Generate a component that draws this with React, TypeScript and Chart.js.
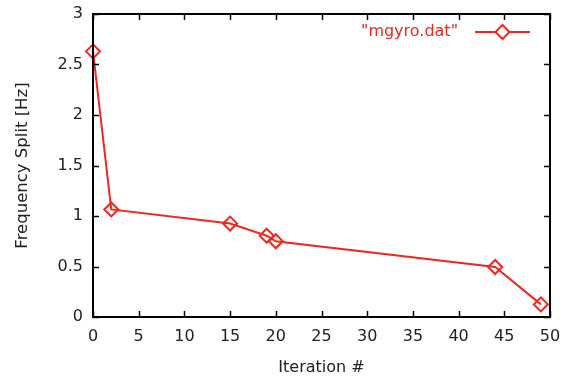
import React, { useEffect, useRef } from "react";
import { Chart, registerables } from "chart.js";

Chart.register(...registerables);

const iterations = [0, 2, 15, 19, 20, 44, 49];
const frequencySplit = [2.63, 1.065, 0.925, 0.805, 0.75, 0.495, 0.125];
const seriesLabel = '"mgyro.dat"';
const xTitle = "Iteration #";
const yTitle = "Frequency Split [Hz]";

const RED = "rgb(242,38,28)";
const FONT = "'DejaVu Sans', sans-serif";

const framePlugin = {
  id: "gnuplotFrame",
  afterDatasetsDraw(chart: any) {
    const { ctx, chartArea: a, scales } = chart;
    const xs = scales.x;
    const ys = scales.y;
    ctx.save();
    ctx.strokeStyle = "#000";
    ctx.lineWidth = 2;
    ctx.strokeRect(a.left, a.top, a.right - a.left, a.bottom - a.top);
    const tl = 6;
    ctx.lineWidth = 1.5;
    ctx.beginPath();
    xs.ticks.forEach((t: any) => {
      const x = Math.round(xs.getPixelForValue(t.value)) + 0.5;
      ctx.moveTo(x, a.bottom);
      ctx.lineTo(x, a.bottom - tl);
      ctx.moveTo(x, a.top);
      ctx.lineTo(x, a.top + tl);
    });
    ys.ticks.forEach((t: any) => {
      const y = Math.round(ys.getPixelForValue(t.value)) + 0.5;
      ctx.moveTo(a.left, y);
      ctx.lineTo(a.left + tl, y);
      ctx.moveTo(a.right, y);
      ctx.lineTo(a.right - tl, y);
    });
    ctx.stroke();

    // legend (gnuplot style: text then sample)
    const ly = a.top + 18;
    const lineStart = a.right - 75;
    const lineEnd = a.right - 20;
    ctx.fillStyle = RED;
    ctx.font = `16px ${FONT}`;
    ctx.textAlign = "right";
    ctx.textBaseline = "middle";
    ctx.fillText(seriesLabel, lineStart - 17, ly);
    ctx.strokeStyle = RED;
    ctx.lineWidth = 2;
    ctx.beginPath();
    ctx.moveTo(lineStart, ly);
    ctx.lineTo(lineEnd, ly);
    ctx.stroke();
    const cx = (lineStart + lineEnd) / 2;
    const r = 7;
    ctx.fillStyle = "#fff";
    ctx.beginPath();
    ctx.moveTo(cx, ly - r);
    ctx.lineTo(cx + r, ly);
    ctx.lineTo(cx, ly + r);
    ctx.lineTo(cx - r, ly);
    ctx.closePath();
    ctx.fill();
    ctx.stroke();
    ctx.restore();
  },
};

export default function App() {
  const ref = useRef<HTMLCanvasElement | null>(null);
  useEffect(() => {
    if (!ref.current) return;
    const chart = new Chart(ref.current, {
      type: "scatter",
      data: {
        datasets: [
          {
            label: seriesLabel,
            data: iterations.map((x, i) => ({ x, y: frequencySplit[i] })),
            showLine: true,
            borderColor: RED,
            backgroundColor: "#fff",
            borderWidth: 2,
            pointStyle: "rectRot",
            pointRadius: 7,
            pointBorderWidth: 2,
            pointBackgroundColor: "rgba(255,255,255,0)",
            pointBorderColor: RED,
            clip: false as any,
          },
        ],
      },
      options: {
        animation: false,
        responsive: false,
        maintainAspectRatio: false,
        layout: { padding: { top: 14, right: 17, left: 0, bottom: 0 } },
        plugins: { legend: { display: false }, tooltip: { enabled: false } },
        scales: {
          x: {
            type: "linear",
            min: 0,
            max: 50,
            afterFit: (s: any) => {
              s.height = 62;
              s.paddingLeft = 0;
              s.paddingRight = 0;
            },
            grid: { display: false, drawTicks: false },
            border: { display: false },
            ticks: {
              stepSize: 5,
              padding: 10,
              color: "#222",
              font: { family: FONT, size: 16 },
            },
            title: {
              display: true,
              text: xTitle,
              color: "#222",
              font: { family: FONT, size: 16 },
              padding: { top: 0, bottom: 2 },
            },
          },
          y: {
            type: "linear",
            min: 0,
            max: 3,
            afterFit: (s: any) => {
              s.width = 93;
              s.paddingTop = 0;
              s.paddingBottom = 0;
            },
            grid: { display: false, drawTicks: false },
            border: { display: false },
            ticks: {
              stepSize: 0.5,
              padding: 10,
              color: "#222",
              font: { family: FONT, size: 16 },
              callback: (v: any) => String(Number(v)),
            },
            title: {
              display: true,
              text: yTitle,
              color: "#222",
              font: { family: FONT, size: 16.5 },
              padding: { top: 13, bottom: 0 },
            },
          },
        },
      },
      plugins: [framePlugin],
    });
    return () => chart.destroy();
  }, []);
  return (
    <div style={{ position: "absolute", left: 0, top: 0, width: 567, height: 379, background: "#fff" }}>
      <canvas ref={ref} width={567} height={379} style={{ width: 567, height: 379 }} />
    </div>
  );
}
